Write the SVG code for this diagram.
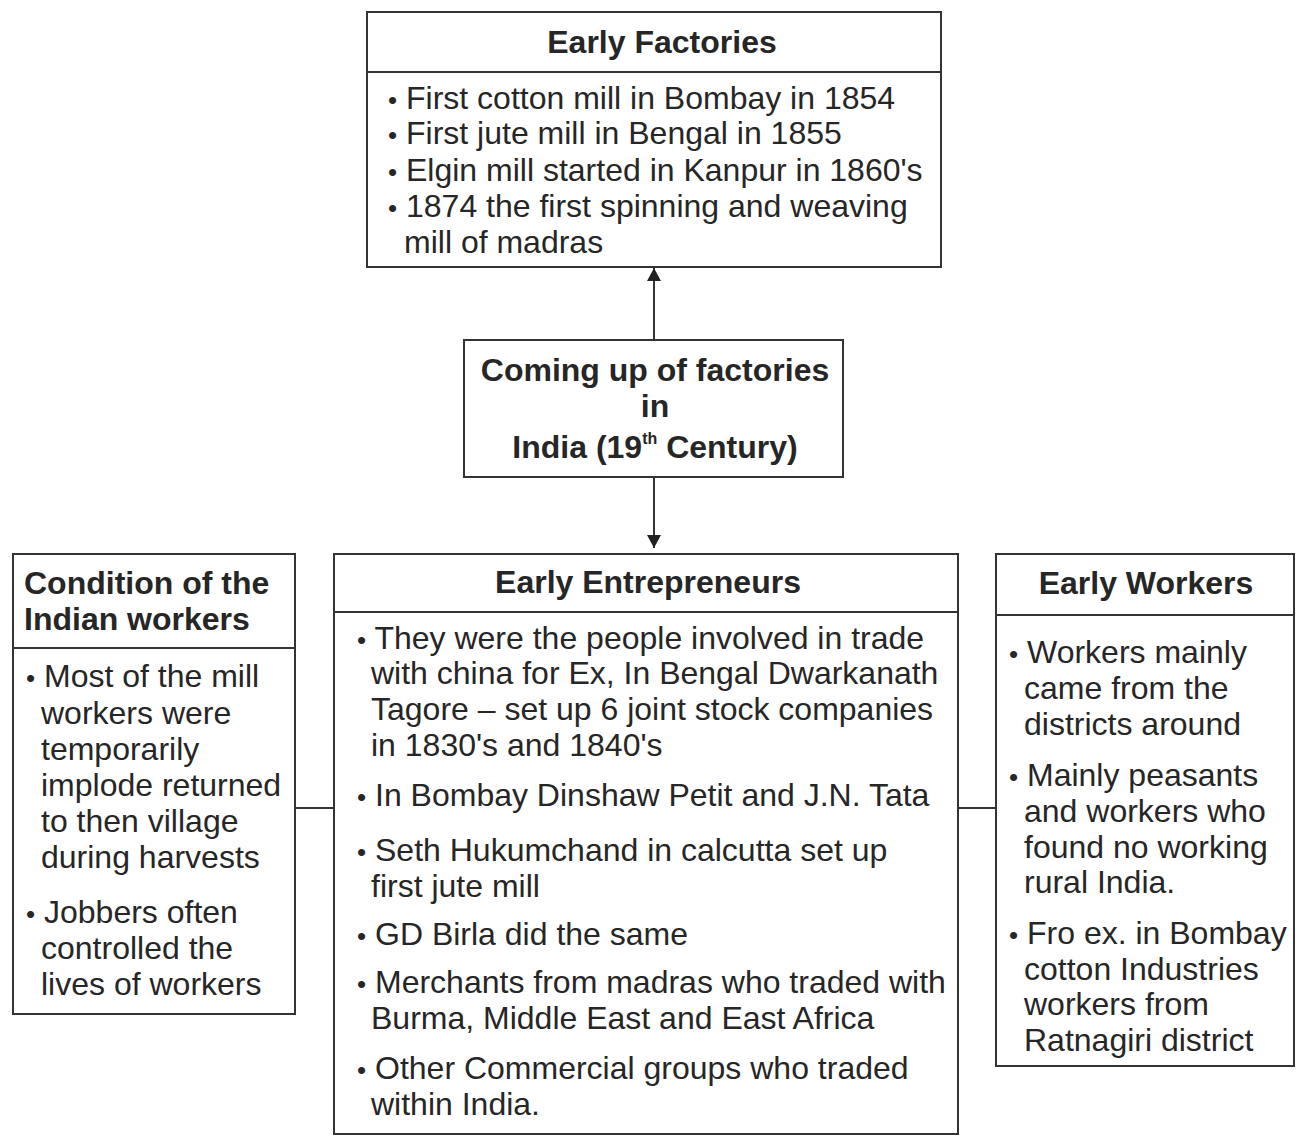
<svg xmlns="http://www.w3.org/2000/svg" width="1299" height="1141" viewBox="0 0 1299 1141">
<style>
.box{fill:#fff;stroke:#333;stroke-width:2}
.div{stroke:#333;stroke-width:2}
.t{font-family:"Liberation Sans",Arial,sans-serif;font-size:32px;fill:#262626}
.b{font-family:"Liberation Sans",Arial,sans-serif;font-size:32px;font-weight:bold;fill:#262626}
.c{text-anchor:middle}
.con{stroke:#333;stroke-width:2;fill:none}
.bl{font-size:26px}
</style>
<defs>
<marker id="ah" viewBox="0 0 14 15" refX="14" refY="7.5" markerWidth="15" markerHeight="14" markerUnits="userSpaceOnUse" orient="auto">
<path d="M0,0 L14,7.5 L0,15 z" fill="#222"/>
</marker>
</defs>
<rect width="1299" height="1141" fill="#fff"/>
<g id="connectors">
<line class="con" x1="654" y1="340" x2="654" y2="268" marker-end="url(#ah)"/>
<line class="con" x1="654" y1="477" x2="654" y2="548" marker-end="url(#ah)"/>
<line class="con" x1="295" y1="808" x2="334" y2="808"/>
<line class="con" x1="958" y1="808" x2="996" y2="808"/>
</g>
<g id="early-factories">
<rect class="box" x="367" y="12" width="574" height="255"/>
<line class="div" x1="367" y1="72" x2="941" y2="72"/>
<text class="b c" x="662" y="53">Early Factories</text>
<text class="t" x="388" y="109"><tspan class="bl">•</tspan> First cotton mill in Bombay in 1854</text>
<text class="t" x="388" y="144"><tspan class="bl">•</tspan> First jute mill in Bengal in 1855</text>
<text class="t" x="388" y="181"><tspan class="bl">•</tspan> Elgin mill started in Kanpur in 1860's</text>
<text class="t" x="388" y="217"><tspan class="bl">•</tspan> 1874 the first spinning and weaving</text>
<text class="t" x="404" y="253">mill of madras</text>
</g>
<g id="coming-up">
<rect class="box" x="464" y="340" width="379" height="137"/>
<text class="b c" x="655" y="381">Coming up of factories</text>
<text class="b c" x="655" y="417">in</text>
<text class="b c" x="655" y="458">India (19<tspan font-size="16" dy="-14">th</tspan><tspan dy="14"> Century)</tspan></text>
</g>
<g id="condition">
<rect class="box" x="13" y="554" width="282" height="460"/>
<line class="div" x1="13" y1="648" x2="295" y2="648"/>
<text class="b" x="24" y="594">Condition of the</text>
<text class="b" x="24" y="630">Indian workers</text>
<text class="t" x="26" y="687"><tspan class="bl">•</tspan> Most of the mill</text>
<text class="t" x="41" y="724">workers were</text>
<text class="t" x="41" y="760">temporarily</text>
<text class="t" x="41" y="796">implode returned</text>
<text class="t" x="41" y="832">to then village</text>
<text class="t" x="41" y="868">during harvests</text>
<text class="t" x="26" y="923"><tspan class="bl">•</tspan> Jobbers often</text>
<text class="t" x="41" y="959">controlled the</text>
<text class="t" x="41" y="995">lives of workers</text>
</g>
<g id="entrepreneurs">
<rect class="box" x="334" y="554" width="624" height="580"/>
<line class="div" x1="334" y1="612" x2="958" y2="612"/>
<text class="b c" x="648" y="593">Early Entrepreneurs</text>
<text class="t" x="357" y="649"><tspan class="bl">•</tspan> They were the people involved in trade</text>
<text class="t" x="371" y="684">with china for Ex, In Bengal Dwarkanath</text>
<text class="t" x="371" y="720">Tagore – set up 6 joint stock companies</text>
<text class="t" x="371" y="756">in 1830's and 1840's</text>
<text class="t" x="357" y="806"><tspan class="bl">•</tspan> In Bombay Dinshaw Petit and J.N. Tata</text>
<text class="t" x="357" y="861"><tspan class="bl">•</tspan> Seth Hukumchand in calcutta set up</text>
<text class="t" x="371" y="897">first jute mill</text>
<text class="t" x="357" y="945"><tspan class="bl">•</tspan> GD Birla did the same</text>
<text class="t" x="357" y="993"><tspan class="bl">•</tspan> Merchants from madras who traded with</text>
<text class="t" x="371" y="1029">Burma, Middle East and East Africa</text>
<text class="t" x="357" y="1079"><tspan class="bl">•</tspan> Other Commercial groups who traded</text>
<text class="t" x="371" y="1115">within India.</text>
</g>
<g id="early-workers">
<rect class="box" x="996" y="554" width="298" height="512"/>
<line class="div" x1="996" y1="615" x2="1294" y2="615"/>
<text class="b c" x="1146" y="594">Early Workers</text>
<text class="t" x="1009" y="663"><tspan class="bl">•</tspan> Workers mainly</text>
<text class="t" x="1024" y="699">came from the</text>
<text class="t" x="1024" y="735">districts around</text>
<text class="t" x="1009" y="786"><tspan class="bl">•</tspan> Mainly peasants</text>
<text class="t" x="1024" y="822">and workers who</text>
<text class="t" x="1024" y="858">found no working</text>
<text class="t" x="1024" y="893">rural India.</text>
<text class="t" x="1009" y="944"><tspan class="bl">•</tspan> Fro ex. in Bombay</text>
<text class="t" x="1024" y="980">cotton Industries</text>
<text class="t" x="1024" y="1015">workers from</text>
<text class="t" x="1024" y="1051">Ratnagiri district</text>
</g>
</svg>
